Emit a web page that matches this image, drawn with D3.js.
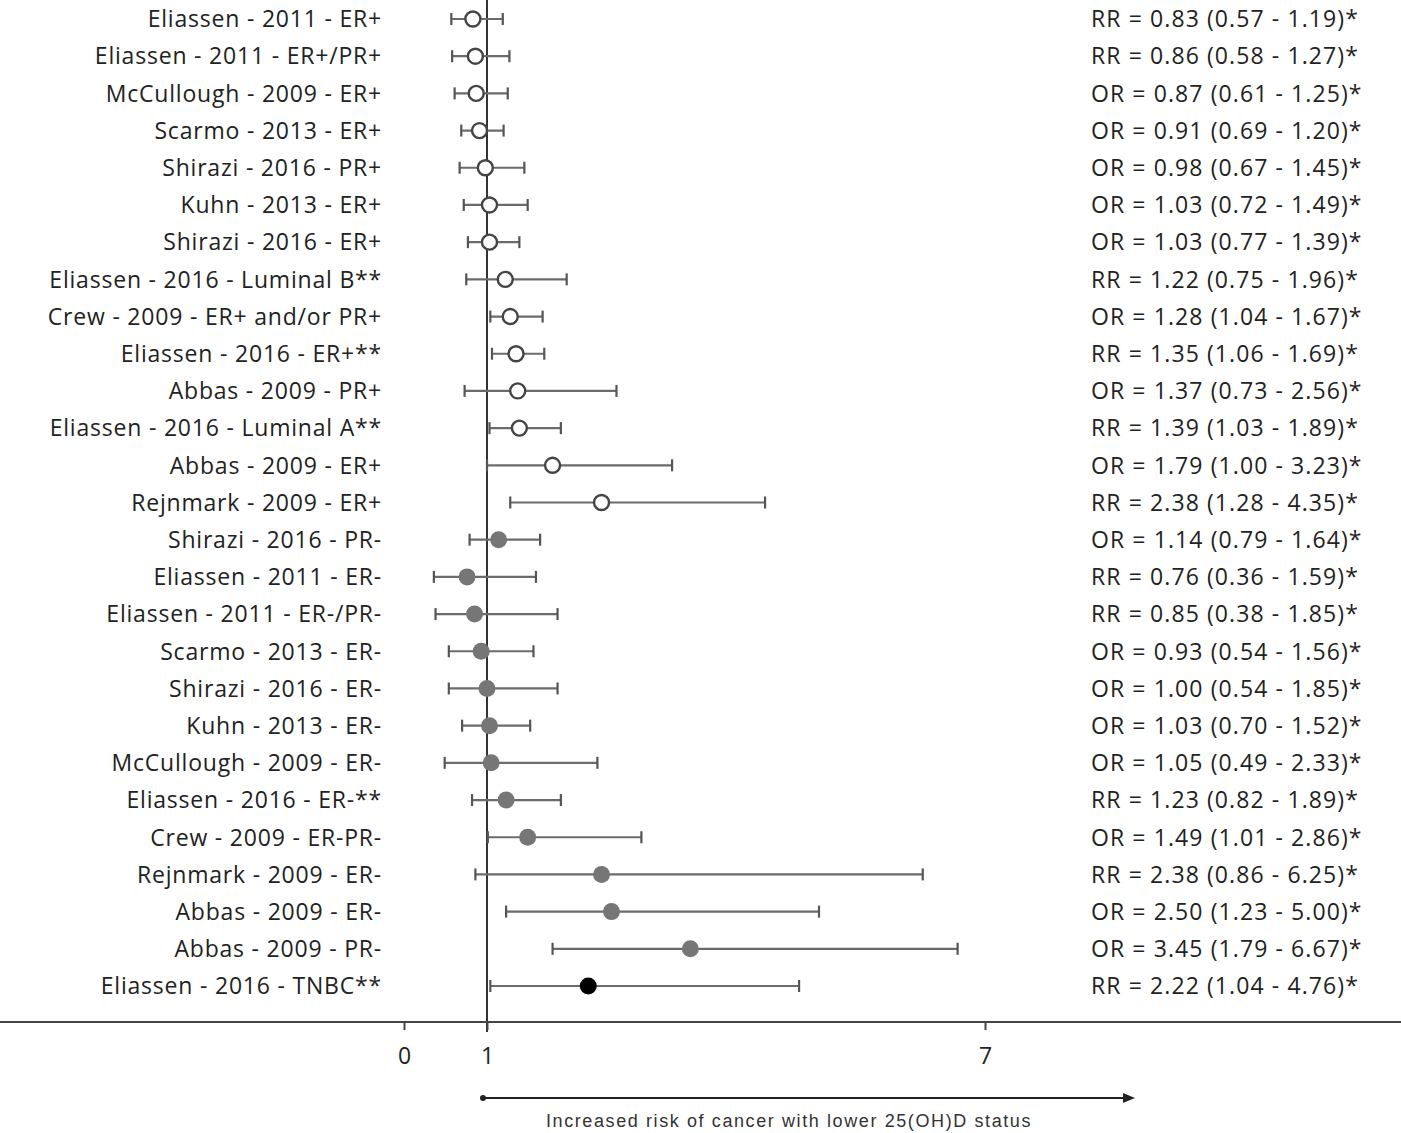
<!DOCTYPE html>
<html>
<head>
<meta charset="utf-8">
<script src="https://cdn.jsdelivr.net/npm/d3@7"></script>
<style>
  html, body { margin: 0; padding: 0; background: #fff; }
  svg { display: block; }
</style>
</head>
<body>
<div id="container"></div>
<script>
var studies = [
  "Eliassen - 2011 - ER+", "Eliassen - 2011 - ER+/PR+", "McCullough - 2009 - ER+",
  "Scarmo - 2013 - ER+", "Shirazi - 2016 - PR+", "Kuhn - 2013 - ER+",
  "Shirazi - 2016 - ER+", "Eliassen - 2016 - Luminal B**", "Crew - 2009 - ER+ and/or PR+",
  "Eliassen - 2016 - ER+**", "Abbas - 2009 - PR+", "Eliassen - 2016 - Luminal A**",
  "Abbas - 2009 - ER+", "Rejnmark - 2009 - ER+", "Shirazi - 2016 - PR-",
  "Eliassen - 2011 - ER-", "Eliassen - 2011 - ER-/PR-", "Scarmo - 2013 - ER-",
  "Shirazi - 2016 - ER-", "Kuhn - 2013 - ER-", "McCullough - 2009 - ER-",
  "Eliassen - 2016 - ER-**", "Crew - 2009 - ER-PR-", "Rejnmark - 2009 - ER-",
  "Abbas - 2009 - ER-", "Abbas - 2009 - PR-", "Eliassen - 2016 - TNBC**"
];
var measure = ["RR","RR","OR","OR","OR","OR","OR","RR","OR","RR","OR","RR","OR","RR",
               "OR","RR","RR","OR","OR","OR","OR","RR","OR","RR","OR","OR","RR"];
var estimate = [0.83,0.86,0.87,0.91,0.98,1.03,1.03,1.22,1.28,1.35,1.37,1.39,1.79,2.38,
                1.14,0.76,0.85,0.93,1.00,1.03,1.05,1.23,1.49,2.38,2.50,3.45,2.22];
var lower = [0.57,0.58,0.61,0.69,0.67,0.72,0.77,0.75,1.04,1.06,0.73,1.03,1.00,1.28,
             0.79,0.36,0.38,0.54,0.54,0.70,0.49,0.82,1.01,0.86,1.23,1.79,1.04];
var upper = [1.19,1.27,1.25,1.20,1.45,1.49,1.39,1.96,1.67,1.69,2.56,1.89,3.23,4.35,
             1.64,1.59,1.85,1.56,1.85,1.52,2.33,1.89,2.86,6.25,5.00,6.67,4.76];
// receptor group: pos = hormone-receptor positive, neg = negative, tn = triple negative
var group = ["pos","pos","pos","pos","pos","pos","pos","pos","pos","pos","pos","pos","pos","pos",
             "neg","neg","neg","neg","neg","neg","neg","neg","neg","neg","neg","neg","tn"];
var xTicks = [0, 1, 7];
var arrowLabel = "Increased risk of cancer with lower 25(OH)D status";

var width = 1401, height = 1133;
var labelFont = "'Open Sans', Lato, sans-serif";

var rows = studies.map(function(s, i) {
  return { study: s, type: measure[i], est: estimate[i], lo: lower[i], hi: upper[i], grp: group[i], i: i };
});

var x = d3.scaleLinear().domain([0, 7]).range([404, 985]);
var y = d3.scaleLinear().domain([0, studies.length - 1]).range([19, 986]);
var axisY = 1022;

var svg = d3.select("#container").append("svg")
    .attr("width", width)
    .attr("height", height);

// no-effect line at 1
svg.append("line")
    .attr("x1", x(1)).attr("x2", x(1))
    .attr("y1", 0).attr("y2", axisY + 10)
    .attr("stroke", "#333").attr("stroke-width", 2);

// x axis
svg.append("line")
    .attr("x1", 0).attr("x2", width)
    .attr("y1", axisY).attr("y2", axisY)
    .attr("stroke", "#444").attr("stroke-width", 2);

var axis = d3.axisBottom(x).tickValues(xTicks).tickSize(8).tickPadding(18).tickFormat(d3.format("d"));
var gx = svg.append("g")
    .attr("transform", "translate(0," + axisY + ")")
    .call(axis);
gx.select(".domain").remove();
gx.selectAll(".tick line").attr("stroke", "#444").attr("stroke-width", 2);
gx.selectAll(".tick text")
    .attr("fill", "#222")
    .style("font-family", labelFont)
    .style("font-size", "23px");

// error bars
var bars = svg.selectAll(".ci")
    .data(rows)
  .enter().append("g")
    .attr("class", "ci")
    .attr("transform", function(d) { return "translate(0," + y(d.i) + ")"; });

bars.append("line")
    .attr("x1", function(d) { return x(d.lo); })
    .attr("x2", function(d) { return x(d.hi); })
    .attr("stroke", "#6b6b6b").attr("stroke-width", 2.2);

bars.selectAll(".cap")
    .data(function(d) { return [d.lo, d.hi]; })
  .enter().append("line")
    .attr("class", "cap")
    .attr("x1", function(v) { return x(v); })
    .attr("x2", function(v) { return x(v); })
    .attr("y1", -6).attr("y2", 6)
    .attr("stroke", "#555").attr("stroke-width", 2.2);

// point estimates
var fill = { pos: "#fff", neg: "#767676", tn: "#000" };
var stroke = { pos: "#444", neg: "#767676", tn: "#000" };

bars.append("circle")
    .attr("cx", function(d) { return x(d.est); })
    .attr("r", function(d) { return d.grp == "pos" ? 7.5 : 8.5; })
    .attr("fill", function(d) { return fill[d.grp]; })
    .attr("stroke", function(d) { return stroke[d.grp]; })
    .attr("stroke-width", function(d) { return d.grp == "pos" ? 2.4 : 0; });

// study labels
svg.selectAll(".study")
    .data(rows)
  .enter().append("text")
    .attr("class", "study")
    .attr("x", 382)
    .attr("y", function(d) { return y(d.i); })
    .attr("dy", "0.36em")
    .attr("text-anchor", "end")
    .attr("fill", "#222")
    .style("font-family", labelFont)
    .style("font-size", "23px")
    .style("letter-spacing", "0.8px")
    .text(function(d) { return d.study; });

// estimate labels
svg.selectAll(".est")
    .data(rows)
  .enter().append("text")
    .attr("class", "est")
    .attr("x", 1091)
    .attr("y", function(d) { return y(d.i); })
    .attr("dy", "0.36em")
    .attr("fill", "#222")
    .style("font-family", labelFont)
    .style("font-size", "23px")
    .style("letter-spacing", "1.1px")
    .text(function(d) {
      return d.type + " = " + d.est.toFixed(2) + " (" + d.lo.toFixed(2) + " - " + d.hi.toFixed(2) + ")*";
    });

// direction arrow
var arrowY = 1098, ax0 = x(1) - 4, ax1 = 1135;
svg.append("line")
    .attr("x1", ax0).attr("x2", ax1 - 10)
    .attr("y1", arrowY).attr("y2", arrowY)
    .attr("stroke", "#222").attr("stroke-width", 2);
svg.append("circle")
    .attr("cx", ax0).attr("cy", arrowY).attr("r", 3)
    .attr("fill", "#222");
svg.append("path")
    .attr("d", "M" + (ax1 - 12) + "," + (arrowY - 5) + "L" + ax1 + "," + arrowY + "L" + (ax1 - 12) + "," + (arrowY + 5) + "Z")
    .attr("fill", "#222");

svg.append("text")
    .attr("x", 789)
    .attr("y", 1127)
    .attr("text-anchor", "middle")
    .attr("fill", "#333")
    .style("font-family", "'Liberation Sans', Arial, sans-serif")
    .style("font-size", "18px")
    .style("letter-spacing", "1.6px")
    .text(arrowLabel);
</script>
</body>
</html>
